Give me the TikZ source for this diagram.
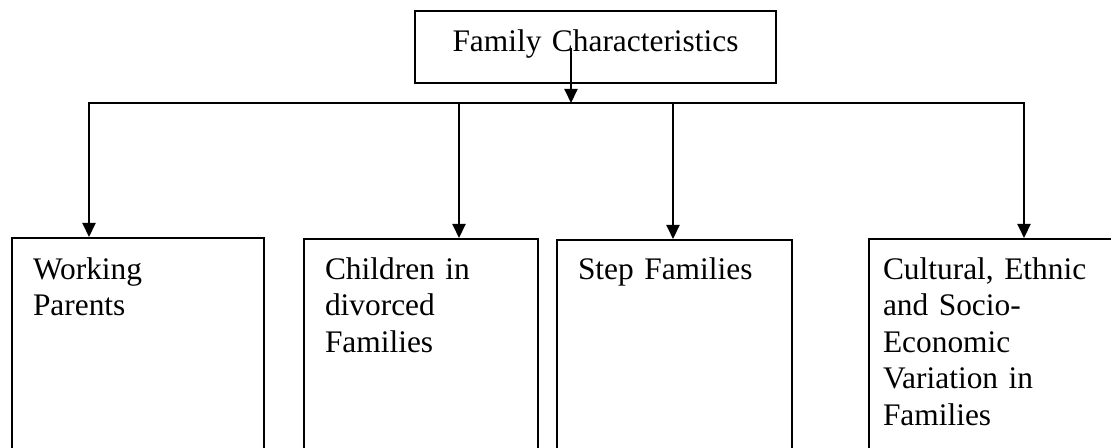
\documentclass[tikz,border=0pt]{standalone}
\usepackage{fontspec}
\setmainfont{Liberation Serif}
\usetikzlibrary{arrows.meta}
\tikzset{
  famtext/.style={font=\fontsize{15.7}{18.25}\selectfont},
  topbox/.style={draw, line width=1pt, famtext, inner sep=0pt, align=center, anchor=north west},
  leafbox/.style={draw, line width=1pt, famtext, inner ysep=0pt, align=left, anchor=north west},
  tip/.tip={Triangle[length=7pt,width=6.5pt]},
  drop/.style={line width=1pt, -tip},
}
\begin{document}
\begin{tikzpicture}[x=0.5pt,y=0.5pt,yscale=-1,xscale=1]
\useasboundingbox (0,0) rectangle (1111,448);
\clip (0,0) rectangle (1111,448);

% Text Node
\node [topbox, text width=180.5pt, text height=20.5pt, text depth=15.5pt] (fam) at (414,10) {Family Characteristics};
% Text Node
\node [leafbox, inner xsep=10.5pt, text width=105pt, text height=20.5pt, text depth=96pt] (work) at (11,237) {Working\\Parents};
% Text Node
\node [leafbox, inner xsep=10.5pt, text width=96pt, text height=20pt, text depth=96pt] (divorce) at (303,238) {Children in\\divorced\\Families};
% Text Node
\node [leafbox, inner xsep=10.5pt, text width=96.5pt, text height=19.5pt, text depth=96pt] (stepfam) at (556,239) {Step Families};
% Text Node
\node [leafbox, inner xsep=7pt, text width=116pt, text height=20pt, text depth=96pt] (cultural) at (868,238) {Cultural, Ethnic\\and Socio-\\Economic\\Variation in\\Families};

%Straight Lines
\coordinate (famtail) at (571,48);
\coordinate (bushit) at (571,103);
\draw [drop] (famtail) -- (bushit);
%Straight Lines
\coordinate (d1) at (89,103);
\coordinate (d2) at (459,103);
\coordinate (d3) at (673,103);
\coordinate (d4) at (1024,103);
\draw [line width=1pt, tip-tip] (d1 |- work.north) -- (d1) -- (d4) -- (d4 |- cultural.north);
\draw [drop] (d2) -- (d2 |- divorce.north);
\draw [drop] (d3) -- (d3 |- stepfam.north);

\end{tikzpicture}
\end{document}
